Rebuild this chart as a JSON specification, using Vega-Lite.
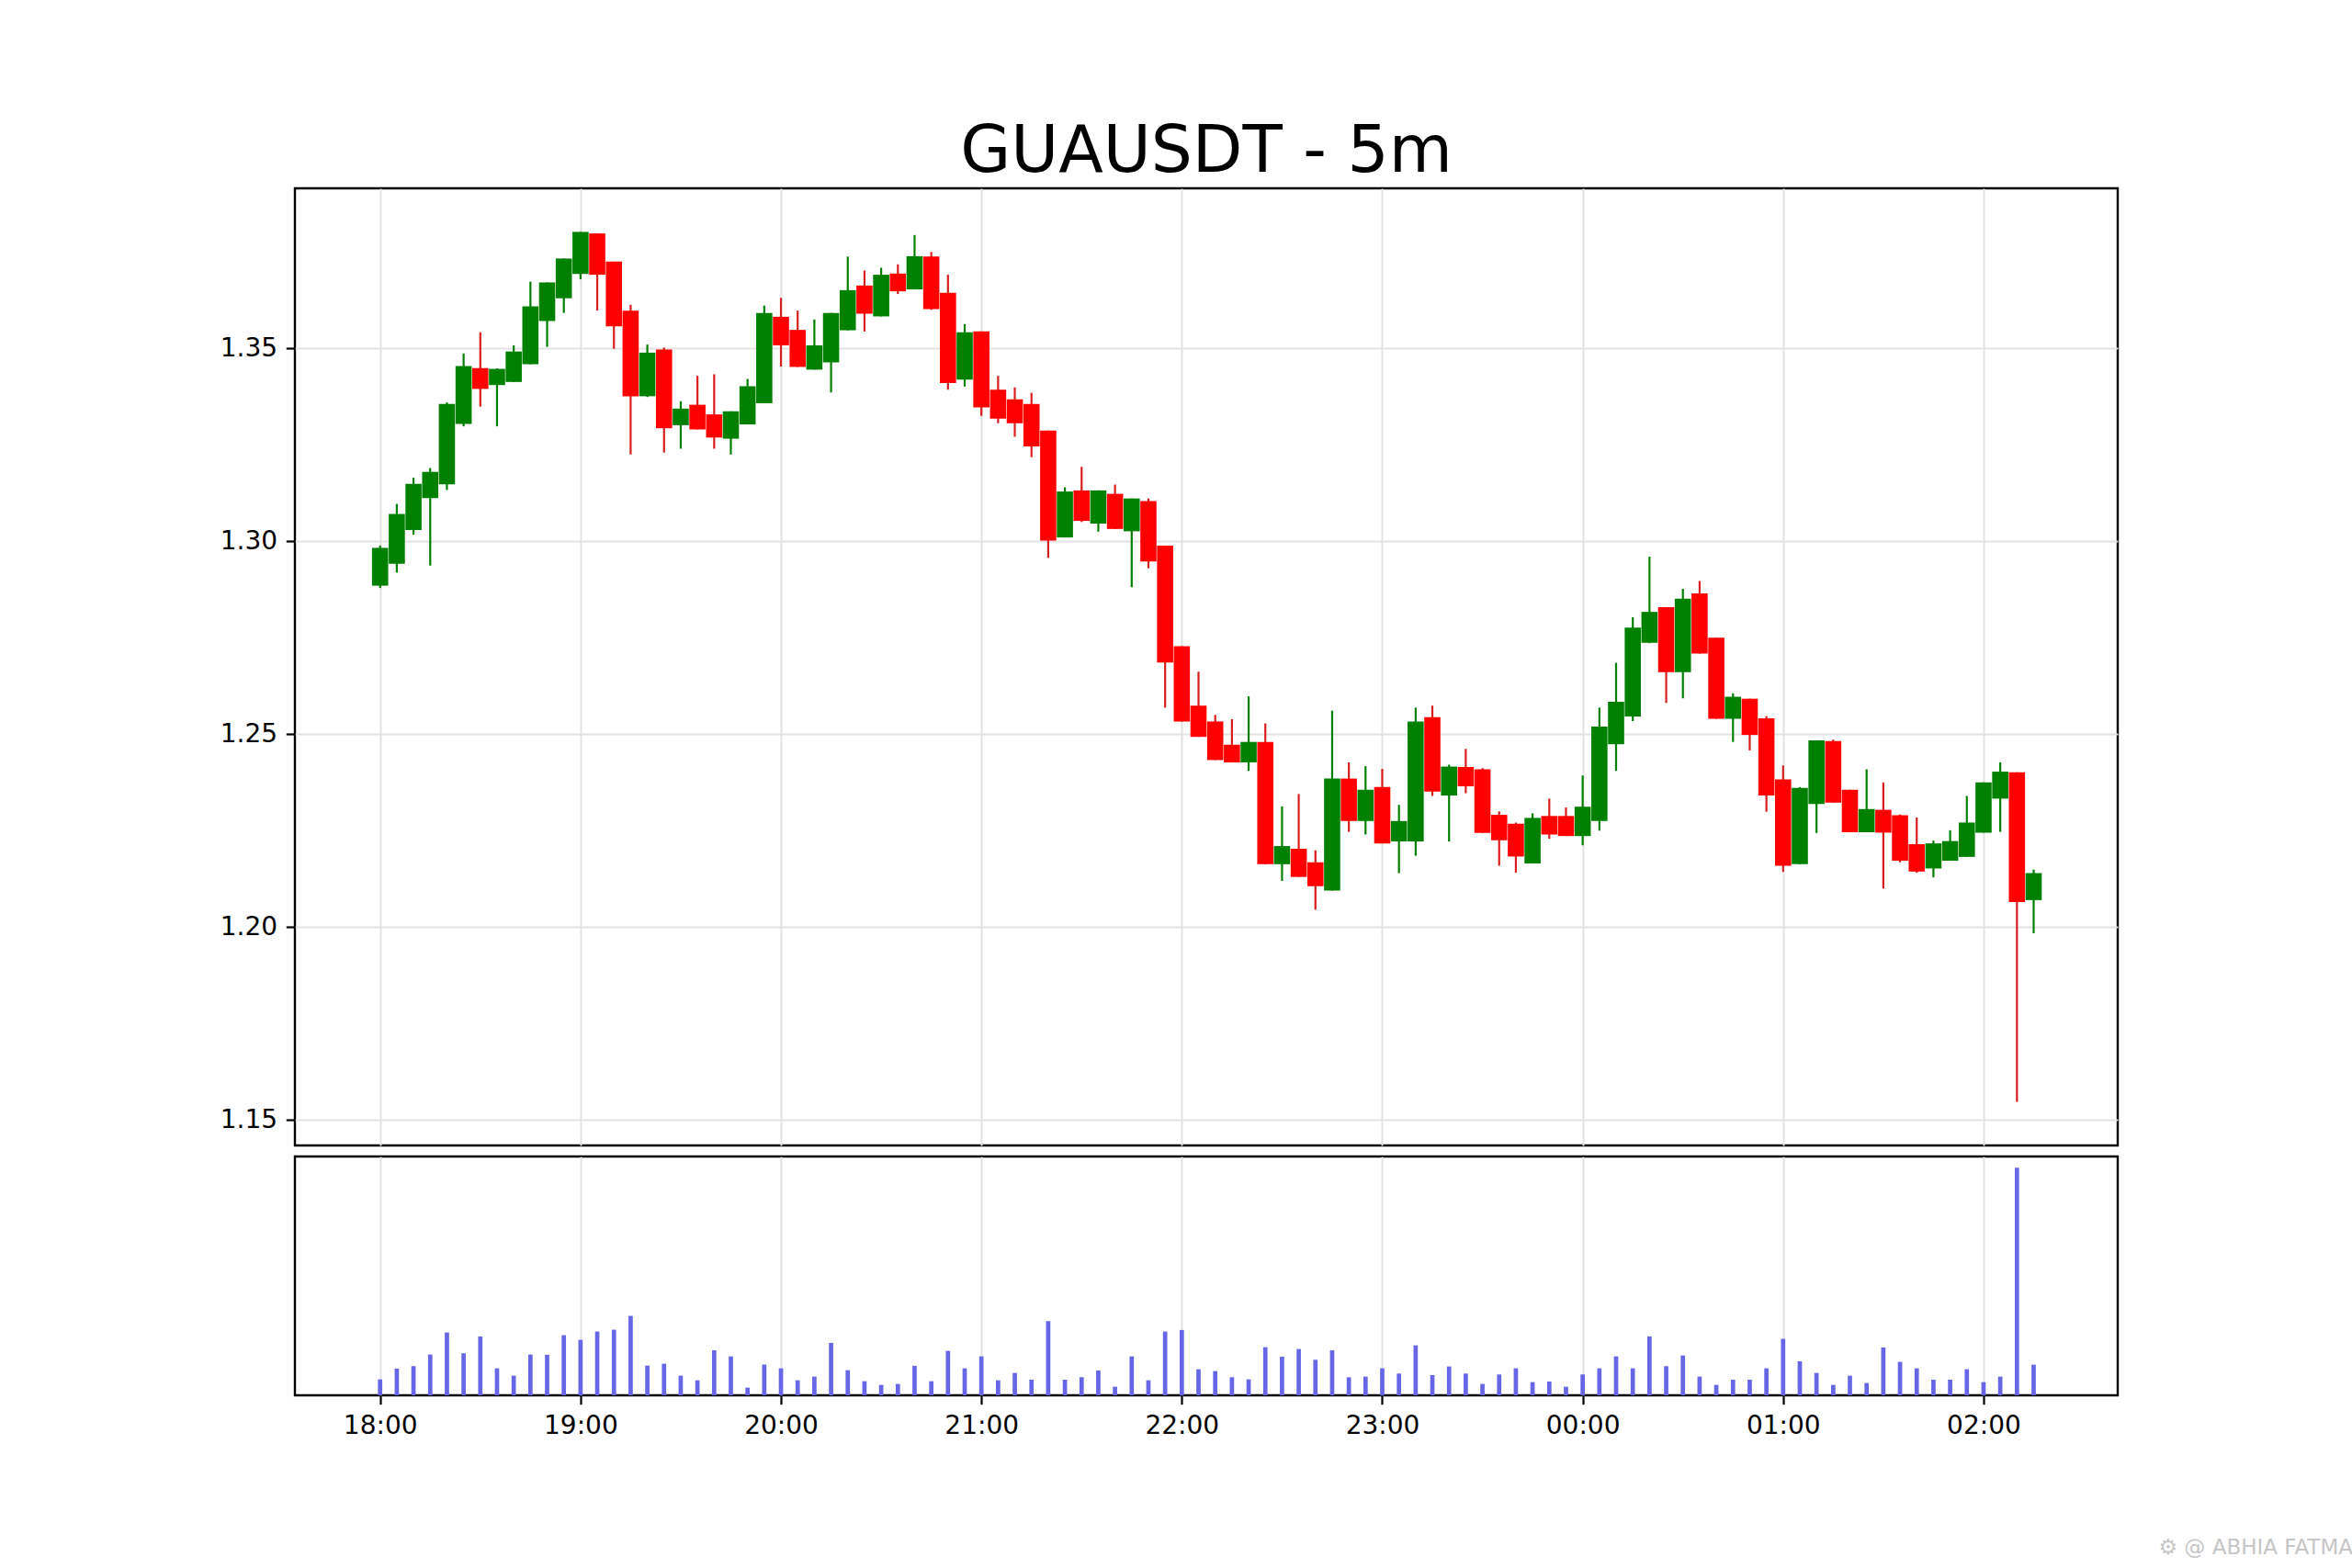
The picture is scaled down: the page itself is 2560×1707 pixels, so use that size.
{
  "$schema": "https://vega.github.io/schema/vega-lite/v6.json",
  "background": "white",
  "padding": {"left": 238, "top": 128, "right": 10, "bottom": 10},
  "spacing": 8,
  "datasets": {
    "candles": [
      {"t": "2024-01-01T18:00:00Z", "o": 1.2885, "h": 1.2989, "l": 1.2879, "c": 1.2983, "v": 52},
      {"t": "2024-01-01T18:05:00Z", "o": 1.2942, "h": 1.3097, "l": 1.2919, "c": 1.3071, "v": 87},
      {"t": "2024-01-01T18:10:00Z", "o": 1.3029, "h": 1.3165, "l": 1.3017, "c": 1.3149, "v": 95},
      {"t": "2024-01-01T18:15:00Z", "o": 1.3112, "h": 1.3190, "l": 1.2937, "c": 1.3180, "v": 133},
      {"t": "2024-01-01T18:20:00Z", "o": 1.3148, "h": 1.3360, "l": 1.3133, "c": 1.3356, "v": 205},
      {"t": "2024-01-01T18:25:00Z", "o": 1.3304, "h": 1.3487, "l": 1.3298, "c": 1.3454, "v": 137},
      {"t": "2024-01-01T18:30:00Z", "o": 1.3449, "h": 1.3542, "l": 1.3349, "c": 1.3395, "v": 192},
      {"t": "2024-01-01T18:35:00Z", "o": 1.3405, "h": 1.3448, "l": 1.3298, "c": 1.3447, "v": 88},
      {"t": "2024-01-01T18:40:00Z", "o": 1.3413, "h": 1.3508, "l": 1.3413, "c": 1.3492, "v": 64},
      {"t": "2024-01-01T18:45:00Z", "o": 1.3459, "h": 1.3673, "l": 1.3459, "c": 1.3609, "v": 133},
      {"t": "2024-01-01T18:50:00Z", "o": 1.3571, "h": 1.3671, "l": 1.3504, "c": 1.3671, "v": 132},
      {"t": "2024-01-01T18:55:00Z", "o": 1.3630, "h": 1.3733, "l": 1.3592, "c": 1.3733, "v": 196},
      {"t": "2024-01-01T19:00:00Z", "o": 1.3693, "h": 1.3802, "l": 1.3679, "c": 1.3802, "v": 181},
      {"t": "2024-01-01T19:05:00Z", "o": 1.3798, "h": 1.3798, "l": 1.3598, "c": 1.3691, "v": 208},
      {"t": "2024-01-01T19:10:00Z", "o": 1.3725, "h": 1.3725, "l": 1.3499, "c": 1.3557, "v": 214},
      {"t": "2024-01-01T19:15:00Z", "o": 1.3598, "h": 1.3613, "l": 1.3225, "c": 1.3376, "v": 259},
      {"t": "2024-01-01T19:20:00Z", "o": 1.3376, "h": 1.3510, "l": 1.3374, "c": 1.3489, "v": 97},
      {"t": "2024-01-01T19:25:00Z", "o": 1.3497, "h": 1.3502, "l": 1.3230, "c": 1.3293, "v": 103},
      {"t": "2024-01-01T19:30:00Z", "o": 1.3301, "h": 1.3363, "l": 1.3240, "c": 1.3344, "v": 64},
      {"t": "2024-01-01T19:35:00Z", "o": 1.3354, "h": 1.3429, "l": 1.3290, "c": 1.3290, "v": 49},
      {"t": "2024-01-01T19:40:00Z", "o": 1.3329, "h": 1.3433, "l": 1.3240, "c": 1.3269, "v": 147},
      {"t": "2024-01-01T19:45:00Z", "o": 1.3266, "h": 1.3337, "l": 1.3225, "c": 1.3337, "v": 127},
      {"t": "2024-01-01T19:50:00Z", "o": 1.3303, "h": 1.3421, "l": 1.3303, "c": 1.3402, "v": 25},
      {"t": "2024-01-01T19:55:00Z", "o": 1.3358, "h": 1.3611, "l": 1.3358, "c": 1.3592, "v": 100},
      {"t": "2024-01-01T20:00:00Z", "o": 1.3582, "h": 1.3631, "l": 1.3453, "c": 1.3508, "v": 88},
      {"t": "2024-01-01T20:05:00Z", "o": 1.3548, "h": 1.3598, "l": 1.3452, "c": 1.3452, "v": 49},
      {"t": "2024-01-01T20:10:00Z", "o": 1.3445, "h": 1.3575, "l": 1.3445, "c": 1.3508, "v": 61},
      {"t": "2024-01-01T20:15:00Z", "o": 1.3464, "h": 1.3592, "l": 1.3386, "c": 1.3592, "v": 171},
      {"t": "2024-01-01T20:20:00Z", "o": 1.3547, "h": 1.3738, "l": 1.3547, "c": 1.3651, "v": 82},
      {"t": "2024-01-01T20:25:00Z", "o": 1.3663, "h": 1.3702, "l": 1.3544, "c": 1.3590, "v": 46},
      {"t": "2024-01-01T20:30:00Z", "o": 1.3583, "h": 1.3709, "l": 1.3583, "c": 1.3691, "v": 34},
      {"t": "2024-01-01T20:35:00Z", "o": 1.3694, "h": 1.3718, "l": 1.3641, "c": 1.3648, "v": 37},
      {"t": "2024-01-01T20:40:00Z", "o": 1.3653, "h": 1.3794, "l": 1.3653, "c": 1.3739, "v": 96},
      {"t": "2024-01-01T20:45:00Z", "o": 1.3738, "h": 1.3750, "l": 1.3600, "c": 1.3602, "v": 46},
      {"t": "2024-01-01T20:50:00Z", "o": 1.3644, "h": 1.3691, "l": 1.3393, "c": 1.3410, "v": 145},
      {"t": "2024-01-01T20:55:00Z", "o": 1.3419, "h": 1.3563, "l": 1.3401, "c": 1.3542, "v": 88},
      {"t": "2024-01-01T21:00:00Z", "o": 1.3544, "h": 1.3544, "l": 1.3325, "c": 1.3347, "v": 127},
      {"t": "2024-01-01T21:05:00Z", "o": 1.3393, "h": 1.3429, "l": 1.3306, "c": 1.3318, "v": 49},
      {"t": "2024-01-01T21:10:00Z", "o": 1.3368, "h": 1.3399, "l": 1.3271, "c": 1.3306, "v": 73},
      {"t": "2024-01-01T21:15:00Z", "o": 1.3356, "h": 1.3385, "l": 1.3218, "c": 1.3246, "v": 51},
      {"t": "2024-01-01T21:20:00Z", "o": 1.3287, "h": 1.3287, "l": 1.2957, "c": 1.3002, "v": 242},
      {"t": "2024-01-01T21:25:00Z", "o": 1.3010, "h": 1.3140, "l": 1.3010, "c": 1.3129, "v": 51},
      {"t": "2024-01-01T21:30:00Z", "o": 1.3132, "h": 1.3193, "l": 1.3050, "c": 1.3053, "v": 59},
      {"t": "2024-01-01T21:35:00Z", "o": 1.3046, "h": 1.3132, "l": 1.3025, "c": 1.3132, "v": 81},
      {"t": "2024-01-01T21:40:00Z", "o": 1.3123, "h": 1.3147, "l": 1.3032, "c": 1.3032, "v": 28},
      {"t": "2024-01-01T21:45:00Z", "o": 1.3026, "h": 1.3111, "l": 1.2881, "c": 1.3111, "v": 127},
      {"t": "2024-01-01T21:50:00Z", "o": 1.3104, "h": 1.3111, "l": 1.2930, "c": 1.2948, "v": 49},
      {"t": "2024-01-01T21:55:00Z", "o": 1.2989, "h": 1.2989, "l": 1.2569, "c": 1.2686, "v": 208},
      {"t": "2024-01-01T22:00:00Z", "o": 1.2728, "h": 1.2728, "l": 1.2533, "c": 1.2533, "v": 213},
      {"t": "2024-01-01T22:05:00Z", "o": 1.2574, "h": 1.2662, "l": 1.2493, "c": 1.2493, "v": 85},
      {"t": "2024-01-01T22:10:00Z", "o": 1.2533, "h": 1.2550, "l": 1.2433, "c": 1.2433, "v": 79},
      {"t": "2024-01-01T22:15:00Z", "o": 1.2473, "h": 1.2539, "l": 1.2427, "c": 1.2427, "v": 59},
      {"t": "2024-01-01T22:20:00Z", "o": 1.2427, "h": 1.2598, "l": 1.2405, "c": 1.2480, "v": 52},
      {"t": "2024-01-01T22:25:00Z", "o": 1.2480, "h": 1.2528, "l": 1.2163, "c": 1.2163, "v": 157},
      {"t": "2024-01-01T22:30:00Z", "o": 1.2163, "h": 1.2313, "l": 1.2120, "c": 1.2210, "v": 126},
      {"t": "2024-01-01T22:35:00Z", "o": 1.2203, "h": 1.2345, "l": 1.2130, "c": 1.2130, "v": 151},
      {"t": "2024-01-01T22:40:00Z", "o": 1.2168, "h": 1.2199, "l": 1.2045, "c": 1.2106, "v": 116},
      {"t": "2024-01-01T22:45:00Z", "o": 1.2095, "h": 1.2561, "l": 1.2095, "c": 1.2385, "v": 147},
      {"t": "2024-01-01T22:50:00Z", "o": 1.2385, "h": 1.2427, "l": 1.2247, "c": 1.2275, "v": 59},
      {"t": "2024-01-01T22:55:00Z", "o": 1.2275, "h": 1.2417, "l": 1.2240, "c": 1.2356, "v": 61},
      {"t": "2024-01-01T23:00:00Z", "o": 1.2363, "h": 1.2410, "l": 1.2217, "c": 1.2217, "v": 88},
      {"t": "2024-01-01T23:05:00Z", "o": 1.2222, "h": 1.2317, "l": 1.2140, "c": 1.2275, "v": 71},
      {"t": "2024-01-01T23:10:00Z", "o": 1.2222, "h": 1.2569, "l": 1.2185, "c": 1.2533, "v": 163},
      {"t": "2024-01-01T23:15:00Z", "o": 1.2544, "h": 1.2574, "l": 1.2340, "c": 1.2351, "v": 66},
      {"t": "2024-01-01T23:20:00Z", "o": 1.2341, "h": 1.2421, "l": 1.2222, "c": 1.2416, "v": 94},
      {"t": "2024-01-01T23:25:00Z", "o": 1.2415, "h": 1.2462, "l": 1.2347, "c": 1.2365, "v": 71},
      {"t": "2024-01-01T23:30:00Z", "o": 1.2409, "h": 1.2412, "l": 1.2244, "c": 1.2244, "v": 37},
      {"t": "2024-01-01T23:35:00Z", "o": 1.2291, "h": 1.2300, "l": 1.2159, "c": 1.2225, "v": 68},
      {"t": "2024-01-01T23:40:00Z", "o": 1.2268, "h": 1.2271, "l": 1.2141, "c": 1.2183, "v": 88},
      {"t": "2024-01-01T23:45:00Z", "o": 1.2165, "h": 1.2295, "l": 1.2165, "c": 1.2283, "v": 43},
      {"t": "2024-01-01T23:50:00Z", "o": 1.2288, "h": 1.2333, "l": 1.2229, "c": 1.2240, "v": 45},
      {"t": "2024-01-01T23:55:00Z", "o": 1.2288, "h": 1.2310, "l": 1.2236, "c": 1.2236, "v": 28},
      {"t": "2024-01-02T00:00:00Z", "o": 1.2236, "h": 1.2393, "l": 1.2212, "c": 1.2312, "v": 68},
      {"t": "2024-01-02T00:05:00Z", "o": 1.2275, "h": 1.2569, "l": 1.2250, "c": 1.2520, "v": 88},
      {"t": "2024-01-02T00:10:00Z", "o": 1.2474, "h": 1.2685, "l": 1.2405, "c": 1.2584, "v": 127},
      {"t": "2024-01-02T00:15:00Z", "o": 1.2546, "h": 1.2803, "l": 1.2534, "c": 1.2776, "v": 88},
      {"t": "2024-01-02T00:20:00Z", "o": 1.2737, "h": 1.2960, "l": 1.2736, "c": 1.2817, "v": 192},
      {"t": "2024-01-02T00:25:00Z", "o": 1.2829, "h": 1.2829, "l": 1.2581, "c": 1.2661, "v": 95},
      {"t": "2024-01-02T00:30:00Z", "o": 1.2661, "h": 1.2877, "l": 1.2593, "c": 1.2851, "v": 130},
      {"t": "2024-01-02T00:35:00Z", "o": 1.2865, "h": 1.2897, "l": 1.2709, "c": 1.2709, "v": 61},
      {"t": "2024-01-02T00:40:00Z", "o": 1.2750, "h": 1.2750, "l": 1.2540, "c": 1.2540, "v": 34},
      {"t": "2024-01-02T00:45:00Z", "o": 1.2540, "h": 1.2606, "l": 1.2480, "c": 1.2597, "v": 51},
      {"t": "2024-01-02T00:50:00Z", "o": 1.2592, "h": 1.2592, "l": 1.2458, "c": 1.2498, "v": 51},
      {"t": "2024-01-02T00:55:00Z", "o": 1.2541, "h": 1.2547, "l": 1.2299, "c": 1.2341, "v": 88},
      {"t": "2024-01-02T01:00:00Z", "o": 1.2383, "h": 1.2419, "l": 1.2143, "c": 1.2159, "v": 184},
      {"t": "2024-01-02T01:05:00Z", "o": 1.2163, "h": 1.2363, "l": 1.2163, "c": 1.2361, "v": 111},
      {"t": "2024-01-02T01:10:00Z", "o": 1.2319, "h": 1.2484, "l": 1.2244, "c": 1.2484, "v": 73},
      {"t": "2024-01-02T01:15:00Z", "o": 1.2482, "h": 1.2486, "l": 1.2323, "c": 1.2323, "v": 34},
      {"t": "2024-01-02T01:20:00Z", "o": 1.2356, "h": 1.2356, "l": 1.2246, "c": 1.2246, "v": 64},
      {"t": "2024-01-02T01:25:00Z", "o": 1.2246, "h": 1.2409, "l": 1.2246, "c": 1.2306, "v": 40},
      {"t": "2024-01-02T01:30:00Z", "o": 1.2304, "h": 1.2375, "l": 1.2100, "c": 1.2245, "v": 156},
      {"t": "2024-01-02T01:35:00Z", "o": 1.2290, "h": 1.2292, "l": 1.2168, "c": 1.2172, "v": 109},
      {"t": "2024-01-02T01:40:00Z", "o": 1.2215, "h": 1.2284, "l": 1.2141, "c": 1.2144, "v": 88},
      {"t": "2024-01-02T01:45:00Z", "o": 1.2152, "h": 1.2224, "l": 1.2129, "c": 1.2217, "v": 51},
      {"t": "2024-01-02T01:50:00Z", "o": 1.2172, "h": 1.2251, "l": 1.2172, "c": 1.2223, "v": 51},
      {"t": "2024-01-02T01:55:00Z", "o": 1.2182, "h": 1.2340, "l": 1.2182, "c": 1.2271, "v": 85},
      {"t": "2024-01-02T02:00:00Z", "o": 1.2245, "h": 1.2375, "l": 1.2245, "c": 1.2375, "v": 43},
      {"t": "2024-01-02T02:05:00Z", "o": 1.2333, "h": 1.2427, "l": 1.2247, "c": 1.2403, "v": 61},
      {"t": "2024-01-02T02:10:00Z", "o": 1.2401, "h": 1.2401, "l": 1.1547, "c": 1.2065, "v": 742},
      {"t": "2024-01-02T02:15:00Z", "o": 1.2070, "h": 1.2149, "l": 1.1984, "c": 1.2140, "v": 100}
    ]
  },
  "vconcat": [
    {
      "width": 1984,
      "height": 1042,
      "data": {"name": "candles"},
      "title": {
        "text": "GUAUSDT - 5m",
        "fontSize": 71,
        "fontWeight": "normal",
        "color": "black",
        "anchor": "middle",
        "offset": 3
      },
      "layer": [
        {
          "mark": {"type": "rule", "strokeWidth": 2.2},
          "encoding": {
            "x": {
              "field": "t",
              "type": "temporal",
              "title": null,
              "scale": {"type": "utc", "domain": [1704130470000, 1704163210000], "padding": 0},
              "axis": {"labels": false, "ticks": false, "domain": false, "grid": true,
                "values": [1704132000000, 1704135600000, 1704139200000, 1704142800000, 1704146400000, 1704150000000, 1704153600000, 1704157200000, 1704160800000]}
            },
            "y": {
              "field": "l",
              "type": "quantitative",
              "title": null,
              "scale": {"domain": [1.1434, 1.3915], "nice": false, "zero": false},
              "axis": {"values": [1.15, 1.2, 1.25, 1.3, 1.35], "format": ".2f", "grid": true, "domain": false}
            },
            "y2": {"field": "h"},
            "color": {
              "condition": {"test": "datum.c >= datum.o", "value": "#008000"},
              "value": "#d81e1e"
            }
          }
        },
        {
          "mark": {"type": "bar", "width": 17.6},
          "encoding": {
            "x": {"field": "t", "type": "temporal"},
            "y": {"field": "o", "type": "quantitative"},
            "y2": {"field": "c"},
            "color": {
              "condition": {"test": "datum.c >= datum.o", "value": "#008000"},
              "value": "#ff0000"
            }
          }
        }
      ]
    },
    {
      "width": 1984,
      "height": 260,
      "data": {"name": "candles"},
      "title": {
        "text": "⚙ @ ABHIA FATMA",
        "orient": "bottom",
        "anchor": "end",
        "fontSize": 23,
        "fontWeight": "normal",
        "color": "#c6c6c6",
        "offset": 108,
        "dx": 256
      },
      "mark": {"type": "bar", "width": 4.7, "color": "#6666e6"},
      "encoding": {
        "x": {
          "field": "t",
          "type": "temporal",
          "title": null,
          "scale": {"type": "utc", "domain": [1704130470000, 1704163210000], "padding": 0},
          "axis": {"format": "%H:%M", "grid": true, "domain": false,
            "values": [1704132000000, 1704135600000, 1704139200000, 1704142800000, 1704146400000, 1704150000000, 1704153600000, 1704157200000, 1704160800000]}
        },
        "y": {
          "field": "v",
          "type": "quantitative",
          "scale": {"domain": [0, 779], "nice": false},
          "axis": null
        }
      }
    }
  ],
  "config": {
    "font": "DejaVu Sans",
    "view": {"stroke": "black", "strokeWidth": 2.4},
    "title": {"font": "DejaVu Sans"},
    "axis": {
      "gridColor": "#e2e2e2",
      "gridWidth": 2,
      "labelFont": "DejaVu Sans",
      "labelFontSize": 28,
      "labelColor": "black",
      "tickColor": "black",
      "tickWidth": 2.2,
      "tickSize": 9.7,
      "labelPadding": 9.7
    }
  }
}
